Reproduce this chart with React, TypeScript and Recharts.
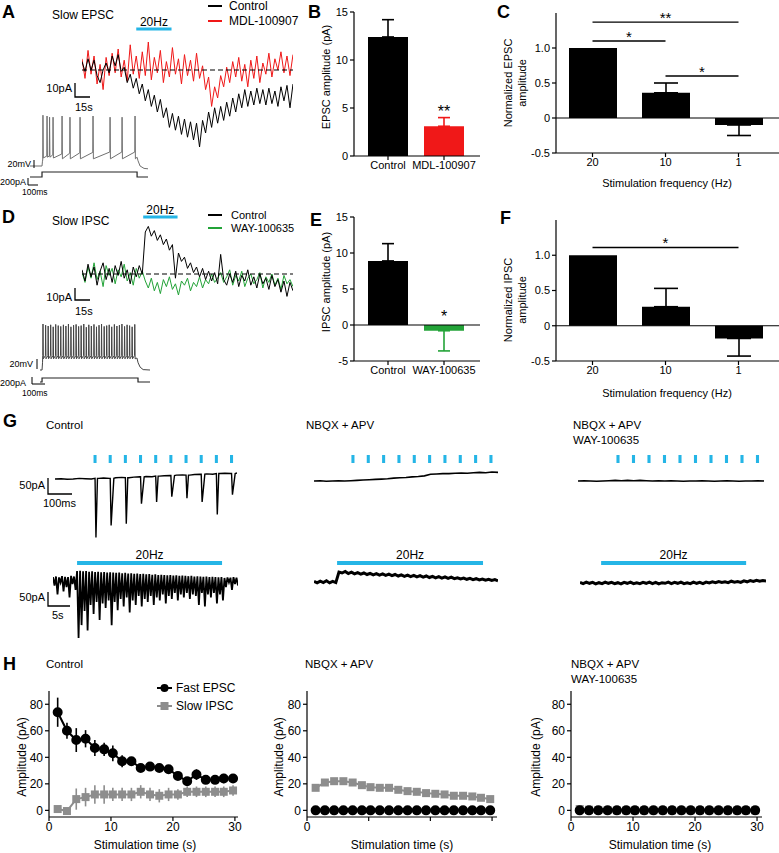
import React from 'react';
import {
  BarChart, Bar, Cell, ErrorBar, LineChart, Line, XAxis, YAxis,
  ReferenceLine, ReferenceArea, ReferenceDot,
} from 'recharts';

const FONT = '"Liberation Sans", Arial, Helvetica, sans-serif';
const CYAN = '#25b5e6';
const RED = '#f01818';
const GREEN = '#23a338';
const GRAY = '#8d8d8d';

// ---- A: slow EPSC (pA, one sample every ~3 s), control vs MDL-100907
const epscTraceControl = [6, -1, 8, 0, 7, -4, -9, 0, 5, -2, 10, 3, 11, -1, 2, -9, -3, -13, -6, -17, -10, -22, -14, -26, -18, -30, -21, -34, -27, -41, -31, -43, -33, -46, -35, -48, -37, -50, -38, -55, -36, -45, -30, -41, -27, -38, -26, -36, -23, -33, -20, -30, -17, -27, -14, -26, -15, -25, -13, -24, -14, -25, -13, -24, -15, -26, -12, -22, -11, -27, -10];
const epscTraceMdl = [8, -6, 14, -3, 10, -10, 4, -14, 9, -4, 12, -2, 15, -5, 7, -8, 18, -3, 10, -6, 13, -4, 20, -7, 9, -2, 14, -9, 6, -5, 16, -3, 8, -10, 11, -4, 7, -8, 12, -6, 3, -14, -5, -26, -12, -20, -4, -12, 2, -9, 6, -5, 9, -8, 4, -12, 7, -6, 10, -9, 5, -3, 12, -5, 8, 0, 13, -2, 10, -4, 11];
const epscStim = [18, 29.7];

// A inset: firing pattern (mV) and current step (pA), time in ms
const firingAHead = [[0, -70], [100, -70], [104, -58]];
const firingASpikes = [108, 142, 163, 192, 267, 333, 417, 525, 667, 767, 875];
const firingAPeaks = [57, 55, 52, 52, 55, 52, 52, 55, 52, 52, 55];
const firingAPre = [-55, -45, -45, -42, -40, -38, -37, -36, -35, -35, -35];
const firingAAhp = [-50, -48, -48, -50, -52, -52, -52, -52, -52, -52, -52];
const firingATail = [[892, -48], [900, -57], [917, -70], [950, -76], [983, -77]];
const stepA = [[0, 0], [100, 0], [100, 200], [892, 200], [892, 0], [983, 0]];

// ---- B: EPSC amplitude
const epscGroups = ['Control', 'MDL-100907'];
const epscMeans = [12.4, 3.1];
const epscSem = [1.8, 0.9];
const epscSig = ['', '**'];

// ---- C: normalized EPSC vs frequency
const freqs = ['20', '10', '1'];
const normEpsc = [1.0, 0.36, -0.1];
const normEpscSem = [0, 0.14, 0.15];
const epscBrackets = [
  { from: '20', to: '1', y: 1.37, mark: '**' },
  { from: '20', to: '10', y: 1.1, mark: '*' },
  { from: '10', to: '1', y: 0.6, mark: '*' },
];

// ---- D: slow IPSC traces, control vs WAY-100635
const ipscTraceControl = [3, -5, 7, -2, 5, -8, 2, 8, -4, 4, -6, 6, -1, 9, -3, 3, -7, 5, -2, 6, 0, 30, 34, 27, 31, 24, 28, 21, 25, 17, 21, -3, 15, 9, 12, 4, 8, 1, 5, -2, 4, -4, 2, -5, 1, -7, 14, -4, -8, 0, -6, 2, -9, -1, -5, 3, -8, -2, -10, 0, -7, -3, -11, -1, -9, -4, -13, -5, -16, -6, -12];
const ipscTraceWay = [1, -6, 5, -3, 8, -4, 2, -9, 6, -1, 4, -7, 3, -2, 7, -5, 1, -8, 4, -3, 2, -5, -10, -3, -12, -6, -14, -4, -9, -2, -11, -7, -15, -5, -8, -3, -12, -6, -9, -2, -10, -4, -7, 0, -6, -3, 1, -6, -2, 3, -8, -1, -5, 2, -9, -3, 0, -7, -4, 1, -10, -2, -6, 0, -8, -3, -11, -1, -7, -4, -9];
const ipscStim = [20.3, 31.7];

const firingDHead = [[0, -70], [17, -70], [21, -52]];
const firingDSpikes = [25, 47, 68, 89, 110, 131, 152, 173, 195, 216, 237, 258, 280, 301, 322, 343, 365, 386, 407, 428, 450, 471, 492, 513, 535, 556, 577, 598, 620, 641, 662, 683, 705, 726, 747, 768, 790];
const firingDPeaks = [45, 42, 40, 43, 38, 44, 41, 39, 43, 40, 45, 38, 42, 44, 39, 41, 45, 37, 43, 40, 44, 38, 42, 45, 39, 41, 43, 38, 44, 40, 42, 45, 39, 43, 41, 38, 44];
const firingDTail = [[808, -40], [818, -52], [835, -63], [860, -69], [917, -70]];
const stepD = [[0, 0], [17, 0], [17, 200], [817, 200], [817, 0], [917, 0]];

// ---- E / F
const ipscGroups = ['Control', 'WAY-100635'];
const ipscMeans = [8.9, -0.8];
const ipscSem = [2.4, 2.8];
const ipscSig = ['', '*'];
const normIpsc = [1.0, 0.27, -0.18];
const normIpscSem = [0, 0.26, 0.25];
const ipscBrackets = [{ from: '20', to: '1', y: 1.11, mark: '*' }];

// ---- G: single-pulse trains (ms) and 30 s trains (samples)
const gFastBaseCtrl = [0, 1, -1, 0, 2, 1, 0, 2, 3, 2, 4, 5, 4, 6, 7, 8, 7, 9, 10, 11, 12, 13, 12, 14, 15, 16, 15, 17, 18, 17, 19];
const gFastStimCtrl = [132, 182, 232, 282, 332, 382, 432, 482, 532, 582];
const gFastPeakCtrl = [185, 147, 144, 84, 81, 66, 72, 87, 128, 66];
const gFastBaseNbqx = [0, 1, -1, 0, 1, 0, 1, 2, 3, 4, 5, 6, 7, 9, 10, 11, 13, 14, 16, 21, 22, 23, 23, 24, 25, 24, 26, 27, 26, 28, 27];
const gFastStimNbqx = [127, 177, 227, 277, 327, 377, 427, 477, 527, 577];
const gFastBaseWay = [0, 1, 0, -1, 0, 1, 2, 1, 2, 1, 2, 1, 0, 1, 0, 1, 0, -1, 0, 0, 1, 0, -1, 0, 1, 0, -1, 0, 0, 1, 0];
const gFastStimWay = [129, 179, 229, 279, 329, 379, 429, 479, 529, 579];

const gSlowTopCtrl = [3, 5, 2, 6, 4, 3, 7, 5, 23, 24, 22, 23, 21, 22, 20, 21, 19, 20, 18, 19, 18, 17, 18, 16, 17, 15, 16, 14, 15, 13, 14, 12, 13, 11, 12, 10, 11, 10, 9, 10, 8, 9, 7, 8, 7, 6, 7, 5, 6, 5, 4, 5, 3, 4, 3, 2, 3, 0, 2, 1, 3, 1];
const gSlowBottomCtrl = [-25, -55, -15, -45, -30, -65, -20, -40, -200, -157, -110, -175, -90, -120, -80, -140, -85, -100, -75, -157, -80, -107, -70, -95, -65, -115, -75, -90, -60, -95, -70, -80, -60, -90, -65, -75, -55, -85, -60, -70, -50, -75, -55, -65, -50, -70, -55, -60, -90, -50, -95, -55, -65, -50, -85, -55, -75, -30, -15, -40, -20, -25];
const gSlowStimCtrl = [8, 56.2];
const gSlowNbqx = [2, -3, 3, -2, 4, -3, 2, -2, 33, 30, 35, 28, 33, 27, 31, 26, 30, 25, 29, 24, 28, 23, 27, 22, 26, 21, 25, 20, 24, 19, 23, 18, 22, 17, 21, 16, 20, 15, 19, 14, 18, 13, 17, 12, 16, 11, 14, 10, 13, 9, 12, 8, 11, 7, 10, 6, 9, 5, 8, 4];
const gSlowStimNbqx = [7.4, 54.2];
const gSlowWay = [2, -2, 3, -1, 2, -3, 1, -2, 3, -1, 2, -2, 1, -3, 2, -1, 3, -2, 1, -2, 2, -1, 3, -2, 2, -3, 1, -1, 3, -2, 2, -1, 3, -2, 1, -2, 3, -1, 2, -2, 3, 0, 4, 1, 5, 2, 4, 1, 6, 3, 5, 2, 7, 4, 8, 5, 9, 6, 8, 7];
const gSlowStimWay = [6.7, 52.7];

// ---- H: amplitude over the 30 s train
const hTime = [1.4, 2.9, 4.4, 5.9, 7.4, 8.9, 10.3, 11.8, 13.3, 14.8, 16.3, 17.8, 19.3, 20.8, 22.3, 23.8, 25.3, 26.8, 28.2, 29.7];
const ctrlFast = [74, 60, 53, 54, 47, 46, 43, 37, 37, 32, 33, 32, 31, 26, 22, 27, 23, 23, 24, 24];
const ctrlFastSem = [11, 6, 9, 6.5, 6, 5, 6, 4.5, 2, 2, 1.5, 1.5, 3, 2, 1.5, 4, 2, 2, 3.5, 3];
const ctrlSlow = [1, -0.5, 8.5, 10, 12, 12, 12, 12, 12, 14, 12, 11, 12, 12, 14, 14, 14, 14, 14, 15];
const ctrlSlowSem = [0, 0, 8, 7, 7, 7, 5, 5, 5, 5, 5, 5, 5, 4, 4, 4, 4, 4, 4, 4];
const nbqxFast = [0, 0, 0, 0, 0, 0, 0, 0, 0, 0, 0, 0, 0, 0, 0, 0, 0, 0, 0, 0];
const nbqxSlow = [17, 21, 22, 22, 21, 19, 17.5, 17, 17, 15.5, 14.5, 14, 13, 12.5, 12, 11, 11, 10.5, 9.5, 8.5];
const wayFast = [0, 0, 0, 0, 0, 0, 0, 0, 0, 0, 0, 0, 0, 0, 0, 0, 0, 0, 0, 0];
const waySlow = [1, 0.5, 0.3, 0.2, 0, 0, 0, 0, 0, 0, 0, 0, 0, 0, 0, 0, 0, 0, 0, 0];

// ---------- helpers
type Box = { x: number; y: number; w: number; h: number; base: number; k: number };
const yDom = (b: Box): [number, number] => [-(b.y + b.h - b.base) / b.k, (b.base - b.y) / b.k];
const toVal = (b: Box, py: number) => (b.base - py) / b.k;
const pick = (a: any, i: number) => (Array.isArray(a) ? a[i] : a);

const pairs = (arr: number[][]) => arr.map(([t, v]) => ({ t, v }));

function spikeTrain(head: number[][], spikes: number[], peaks: number[], pre: any, ahp: any, tail: number[][]) {
  const pts = pairs(head);
  spikes.forEach((s, i) => {
    pts.push({ t: s - 2, v: pick(pre, i) }, { t: s, v: peaks[i] }, { t: s + 3, v: pick(ahp, i) });
  });
  return pts.concat(pairs(tail));
}

function fastTrace(base: number[], stims: number[], peaks: number[]) {
  const pts = base.map((v, i) => ({ t: i * 20, v }));
  stims.forEach((s, i) => {
    const b = base[Math.round(s / 20)];
    pts.push({ t: s, v: b }, { t: s + 3, v: b - peaks[i] }, { t: s + 12, v: b });
  });
  return pts.sort((a, b) => a.t - b.t);
}

const zigzag = (top: number[], bottom: number[]) =>
  top.flatMap((v, i) => [{ t: i, v }, { t: i + 0.5, v: bottom[i] }]);

const indexed = (arr: number[]) => arr.map((v, t) => ({ t, v }));

const AX = { stroke: '#000', strokeWidth: 1.2 };
const TICK = { fontSize: 11, fill: '#000', fontFamily: FONT };

function TraceChart({ box, data, xDomain, lines, children }: any) {
  return (
    <div style={{ position: 'absolute', left: box.x, top: box.y }}>
      <LineChart width={box.w} height={box.h} data={data} margin={{ top: 0, right: 0, bottom: 0, left: 0 }}>
        <XAxis type="number" dataKey="t" domain={xDomain} hide allowDataOverflow />
        <YAxis type="number" domain={yDom(box)} hide allowDataOverflow />
        {lines.map((l: any) => (
          <Line key={l.key} type="linear" dataKey={l.key} stroke={l.color}
            strokeWidth={l.width ?? 1} dot={false} activeDot={false} isAnimationActive={false} />
        ))}
        {children}
      </LineChart>
    </div>
  );
}

function BarPanel({ x, y, w, h, mt, yw, xh, domain, ticks, fmt, names, means, sems, colors, barSize, cap, pad, zero, brackets, sig, sigOffset }: any) {
  const rows = names.map((name: string, i: number) => {
    const e = sems[i] ? (means[i] >= 0 ? [0, sems[i]] : [sems[i], 0]) : null;
    const dark = colors[i] === '#000';
    return { name, v: means[i], eDark: dark ? e : null, eCol: dark ? null : e };
  });
  const col = colors.find((c: string) => c !== '#000') || '#000';
  return (
    <div style={{ position: 'absolute', left: x, top: y }}>
      <BarChart width={w} height={h} data={rows} margin={{ top: mt, right: 0, bottom: 0, left: 0 }}>
        <XAxis dataKey="name" height={xh} interval={0} tickSize={4} tickMargin={1} axisLine={AX} tickLine={AX} tick={TICK} padding={pad} />
        <YAxis type="number" domain={domain} ticks={ticks} tickFormatter={fmt} width={yw} tickSize={4} tickMargin={2} axisLine={AX} tickLine={AX} tick={TICK} allowDataOverflow />
        {zero && <ReferenceLine y={0} stroke="#000" strokeWidth={1.2} />}
        <Bar dataKey="v" barSize={barSize} isAnimationActive={false}>
          {rows.map((r: any, i: number) => <Cell key={r.name} fill={colors[i]} />)}
          <ErrorBar dataKey="eDark" width={cap} stroke="#000" strokeWidth={1.6} direction="y" />
          <ErrorBar dataKey="eCol" width={cap} stroke={col} strokeWidth={1.6} direction="y" />
        </Bar>
        {(brackets || []).map((b: any) => (
          <ReferenceLine key={b.from + b.to} segment={[{ x: b.from, y: b.y }, { x: b.to, y: b.y }]} position="middle"
            stroke="#000" strokeWidth={1.3} ifOverflow="visible"
            label={{ value: b.mark, position: 'top', offset: -1, fontSize: 15, fill: '#000' }} />
        ))}
        {(sig || []).map((s: string, i: number) => s ? (
          <ReferenceDot key={'sig' + i} x={names[i]} y={Math.max(means[i], 0) + (means[i] > 0 ? sems[i] : 0) + sigOffset}
            r={0} fill="none" stroke="none" ifOverflow="visible"
            label={{ value: s, position: 'center', fontSize: 16, fill: '#000' }} />
        ) : null)}
      </BarChart>
    </div>
  );
}

const Square = (props: any) => {
  const { cx, cy, index } = props;
  if (cx == null || cy == null) return <g key={'sq' + index} />;
  return <rect key={'sq' + index} x={cx - 4} y={cy - 4} width={8} height={8} fill={GRAY} />;
};

function AmpPanel({ x, w, mr, xMax, fast, slow, fastSem, slowSem, labelAll }: any) {
  const data = hTime.map((t, i) => ({
    t, fast: fast[i], slow: slow[i],
    fastSem: fastSem ? fastSem[i] : null, slowSem: slowSem ? slowSem[i] : null,
  }));
  return (
    <div style={{ position: 'absolute', left: x, top: 680 }}>
      <LineChart width={w} height={173} data={data} margin={{ top: 11, right: mr, bottom: 0, left: 0 }}>
        <XAxis type="number" dataKey="t" domain={[0, xMax]} ticks={[0, 10, 20, 30]} allowDataOverflow
          tickFormatter={(v: number) => (labelAll || v === 0 ? String(v) : '')}
          height={36} tickSize={4} tickMargin={1} axisLine={AX} tickLine={AX} tick={{ ...TICK, fontSize: 12 }} />
        <YAxis type="number" domain={[-5, 90]} ticks={[0, 20, 40, 60, 80]} width={49} allowDataOverflow
          tickSize={4} tickMargin={2} axisLine={AX} tickLine={AX} tick={{ ...TICK, fontSize: 12 }} />
        <Line dataKey="slow" stroke={GRAY} strokeWidth={2} dot={Square} activeDot={false} isAnimationActive={false}>
          <ErrorBar dataKey="slowSem" width={0} stroke={GRAY} strokeWidth={1.6} direction="y" />
        </Line>
        <Line dataKey="fast" stroke="#000" strokeWidth={2} dot={{ r: 4, fill: '#000', stroke: '#000' }} activeDot={false} isAnimationActive={false}>
          <ErrorBar dataKey="fastSem" width={0} stroke="#000" strokeWidth={1.6} direction="y" />
        </Line>
      </LineChart>
    </div>
  );
}

function T({ x, y, s = 12, a = 'start', b = false, c = '#000', children }: any) {
  return (
    <text x={x} y={y} fontSize={s} textAnchor={a} dominantBaseline="central" fontWeight={b ? 700 : 400} fill={c}>
      {children}
    </text>
  );
}

function VT({ x, y, lines, s = 11 }: any) {
  return (
    <text transform={`translate(${x},${y}) rotate(-90)`} textAnchor="middle" dominantBaseline="central" fontSize={s} fill="#000">
      {lines.map((l: string, i: number) => <tspan key={l} x={0} y={i * 14}>{l}</tspan>)}
    </text>
  );
}

// trace boxes (position of each trace panel and its zero line)
const boxA: Box = { x: 82, y: 8, w: 211, h: 142, base: 70, k: 1.4 };
const boxAV: Box = { x: 30, y: 110, w: 118, h: 60, base: 138, k: 0.4 };
const boxAI: Box = { x: 30, y: 168, w: 118, h: 12, base: 177, k: 0.025 };
const boxD: Box = { x: 82, y: 196, w: 211, h: 109, base: 274, k: 1.4 };
const boxDV: Box = { x: 40, y: 318, w: 110, h: 54, base: 342, k: 0.4 };
const boxDI: Box = { x: 40, y: 374, w: 110, h: 10, base: 382, k: 0.02 };
const boxG1: Box = { x: 55, y: 448, w: 182, h: 97, base: 479, k: 0.32 };
const boxG2: Box = { x: 314, y: 448, w: 184, h: 97, base: 481, k: 0.32 };
const boxG3: Box = { x: 578, y: 448, w: 186, h: 97, base: 481, k: 0.32 };
const boxG4: Box = { x: 53, y: 545, w: 185, h: 97, base: 578, k: 0.3 };
const boxG5: Box = { x: 314, y: 545, w: 184, h: 97, base: 582, k: 0.3 };
const boxG6: Box = { x: 580, y: 545, w: 186, h: 97, base: 583, k: 0.3 };

const normFmt = (v: number) => (v === 0 ? '0' : v.toFixed(1));

function StimTicks({ box, times }: any) {
  return (
    <>
      {times.map((s: number) => (
        <ReferenceArea key={s} x1={s - 5} x2={s + 5} y1={toVal(box, 463)} y2={toVal(box, 455)}
          fill={CYAN} fillOpacity={1} stroke="none" ifOverflow="visible" />
      ))}
    </>
  );
}

function StimBar({ box, range, y0, y1 }: any) {
  return (
    <ReferenceArea x1={range[0]} x2={range[1]} y1={toVal(box, y1)} y2={toVal(box, y0)}
      fill={CYAN} fillOpacity={1} stroke="none" ifOverflow="visible"
      label={{ value: '20Hz', position: 'top', offset: 2, fontSize: 12, fill: '#000' }} />
  );
}

export default function App() {
  const epscData = epscTraceControl.map((v, t) => ({ t, ctrl: v, mdl: epscTraceMdl[t] }));
  const ipscData = ipscTraceControl.map((v, t) => ({ t, ctrl: v, way: ipscTraceWay[t] }));

  return (
    <div style={{ position: 'absolute', left: 0, top: 0, width: 779, height: 853, background: '#fff', fontFamily: FONT, overflow: 'hidden' }}>
      {/* A */}
      <TraceChart box={boxA} data={epscData} xDomain={[0, 70]}
        lines={[{ key: 'mdl', color: RED }, { key: 'ctrl', color: '#000' }]}>
        <ReferenceLine y={0} stroke="#000" strokeDasharray="5 3" strokeWidth={1.2} />
        <StimBar box={boxA} range={epscStim} y0={27.5} y1={30.5} />
      </TraceChart>
      <TraceChart box={boxAV} xDomain={[0, 983]} data={spikeTrain(firingAHead, firingASpikes, firingAPeaks, firingAPre, firingAAhp, firingATail)}
        lines={[{ key: 'v', color: '#707070' }]} />
      <TraceChart box={boxAI} xDomain={[0, 983]} data={pairs(stepA)} lines={[{ key: 'v', color: '#222', width: 1.2 }]} />

      {/* B, C */}
      <BarPanel x={300} y={0} w={180} h={186} mt={12} yw={54} xh={30} domain={[0, 15]} ticks={[0, 5, 10, 15]}
        names={epscGroups} means={epscMeans} sems={epscSem} colors={['#000', RED]} barSize={40} cap={6}
        pad={{ left: 6, right: 8 }} sig={epscSig} sigOffset={0.7} />
      <BarPanel x={470} y={0} w={309} h={193} mt={13} yw={86} xh={40} domain={[-0.5, 1.5]} ticks={[-0.5, 0, 0.5, 1]} fmt={normFmt}
        names={freqs} means={normEpsc} sems={normEpscSem} colors={['#000', '#000', '#000']} barSize={48} cap={12}
        pad={{ left: 0, right: 4 }} zero brackets={epscBrackets} />

      {/* D */}
      <TraceChart box={boxD} data={ipscData} xDomain={[0, 70]}
        lines={[{ key: 'way', color: GREEN }, { key: 'ctrl', color: '#000' }]}>
        <ReferenceLine y={0} stroke="#000" strokeDasharray="5 3" strokeWidth={1.2} />
        <StimBar box={boxD} range={ipscStim} y0={215.5} y1={218.5} />
      </TraceChart>
      <TraceChart box={boxDV} xDomain={[0, 917]} data={spikeTrain(firingDHead, firingDSpikes, firingDPeaks, -34, -42, firingDTail)}
        lines={[{ key: 'v', color: '#444' }]} />
      <TraceChart box={boxDI} xDomain={[0, 917]} data={pairs(stepD)} lines={[{ key: 'v', color: '#222', width: 1.2 }]} />

      {/* E, F */}
      <BarPanel x={300} y={200} w={180} h={191} mt={17} yw={54} xh={30} domain={[-5, 15]} ticks={[-5, 0, 5, 10, 15]}
        names={ipscGroups} means={ipscMeans} sems={ipscSem} colors={['#000', GREEN]} barSize={40} cap={6}
        pad={{ left: 6, right: 8 }} zero sig={ipscSig} sigOffset={1.25} />
      <BarPanel x={470} y={200} w={309} h={201} mt={20} yw={86} xh={40} domain={[-0.5, 1.5]} ticks={[-0.5, 0, 0.5, 1]} fmt={normFmt}
        names={freqs} means={normIpsc} sems={normIpscSem} colors={['#000', '#000', '#000']} barSize={48} cap={12}
        pad={{ left: 0, right: 4 }} zero brackets={ipscBrackets} />

      {/* G */}
      <TraceChart box={boxG1} xDomain={[0, 600]} data={fastTrace(gFastBaseCtrl, gFastStimCtrl, gFastPeakCtrl)}
        lines={[{ key: 'v', color: '#000', width: 1.4 }]}>
        <StimTicks box={boxG1} times={gFastStimCtrl} />
      </TraceChart>
      <TraceChart box={boxG2} xDomain={[0, 600]} data={fastTrace(gFastBaseNbqx, [], [])}
        lines={[{ key: 'v', color: '#000', width: 1.6 }]}>
        <StimTicks box={boxG2} times={gFastStimNbqx} />
      </TraceChart>
      <TraceChart box={boxG3} xDomain={[0, 600]} data={fastTrace(gFastBaseWay, [], [])}
        lines={[{ key: 'v', color: '#000', width: 1.6 }]}>
        <StimTicks box={boxG3} times={gFastStimWay} />
      </TraceChart>
      <TraceChart box={boxG4} xDomain={[0, 61.5]} data={zigzag(gSlowTopCtrl, gSlowBottomCtrl)}
        lines={[{ key: 'v', color: '#000', width: 1.8 }]}>
        <StimBar box={boxG4} range={gSlowStimCtrl} y0={561} y1={565} />
      </TraceChart>
      <TraceChart box={boxG5} xDomain={[0, 59]} data={indexed(gSlowNbqx)}
        lines={[{ key: 'v', color: '#000', width: 3 }]}>
        <StimBar box={boxG5} range={gSlowStimNbqx} y0={561} y1={565} />
      </TraceChart>
      <TraceChart box={boxG6} xDomain={[0, 59]} data={indexed(gSlowWay)}
        lines={[{ key: 'v', color: '#000', width: 3 }]}>
        <StimBar box={boxG6} range={gSlowStimWay} y0={561} y1={565} />
      </TraceChart>

      {/* H */}
      <AmpPanel x={0} w={250} mr={12} xMax={30.5} fast={ctrlFast} slow={ctrlSlow} fastSem={ctrlFastSem} slowSem={ctrlSlowSem} labelAll />
      <AmpPanel x={258} w={250} mr={11} xMax={30.8} fast={nbqxFast} slow={nbqxSlow} />
      <AmpPanel x={522} w={257} mr={17} xMax={30.8} fast={wayFast} slow={waySlow} labelAll />

      {/* text and scale bars */}
      <svg width={779} height={853} style={{ position: 'absolute', left: 0, top: 0, pointerEvents: 'none' }} fontFamily={FONT}>
        <T x={2} y={12} s={18} b>A</T>
        <T x={52} y={15}>Slow EPSC</T>
        <line x1={208} x2={222} y1={6} y2={6} stroke="#000" strokeWidth={2} />
        <T x={229} y={6}>Control</T>
        <line x1={208} x2={222} y1={21} y2={21} stroke={RED} strokeWidth={2} />
        <T x={229} y={21}>MDL-100907</T>
        <path d="M75 83 V97 H90" stroke="#000" strokeWidth={1.3} fill="none" />
        <T x={72} y={88} s={11} a="end">10pA</T>
        <T x={75} y={107} s={11}>15s</T>
        <line x1={34} x2={34} y1={160} y2={168} stroke="#000" strokeWidth={1} />
        <T x={31} y={164} s={9} a="end">20mV</T>
        <path d="M28 178 V185 H38" stroke="#000" strokeWidth={1} fill="none" />
        <T x={0} y={182} s={9}>200pA</T>
        <T x={22} y={192} s={8.5}>100ms</T>

        <T x={308} y={12} s={18} b>B</T>
        <VT x={326} y={77} lines={['EPSC amplitude (pA)']} />
        <T x={497} y={12} s={18} b>C</T>
        <VT x={508} y={83} lines={['Normalized EPSC', 'amplitude']} />
        <T x={667} y={183} s={11} a="middle">Stimulation frequency (Hz)</T>

        <T x={2} y={217} s={18} b>D</T>
        <T x={52} y={221}>Slow IPSC</T>
        <line x1={208} x2={222} y1={215} y2={215} stroke="#000" strokeWidth={2} />
        <T x={231} y={215} s={11}>Control</T>
        <line x1={208} x2={222} y1={228} y2={228} stroke={GREEN} strokeWidth={2} />
        <T x={231} y={228} s={11}>WAY-100635</T>
        <path d="M75 288 V300 H90" stroke="#000" strokeWidth={1.3} fill="none" />
        <T x={72} y={297} s={11} a="end">10pA</T>
        <T x={75} y={311} s={11}>15s</T>
        <line x1={37} x2={37} y1={359} y2={369} stroke="#000" strokeWidth={1} />
        <T x={33} y={364} s={9} a="end">20mV</T>
        <path d="M32 377 V384 H45" stroke="#000" strokeWidth={1} fill="none" />
        <T x={0} y={383} s={9}>200pA</T>
        <T x={22} y={393} s={8.5}>100ms</T>

        <T x={310} y={220} s={18} b>E</T>
        <VT x={326} y={282} lines={['IPSC amplitude (pA)']} />
        <T x={500} y={218} s={18} b>F</T>
        <VT x={508} y={300} lines={['Normalized IPSC', 'amplitude']} />
        <T x={667} y={393} s={11} a="middle">Stimulation frequency (Hz)</T>

        <T x={3} y={421} s={18} b>G</T>
        <T x={46} y={425} s={11.5}>Control</T>
        <T x={306} y={425} s={11.5}>NBQX + APV</T>
        <T x={573} y={425} s={11.5}>NBQX + APV</T>
        <T x={573} y={440} s={11.5}>WAY-100635</T>
        <path d="M48 478 V494 H72" stroke="#000" strokeWidth={1.3} fill="none" />
        <T x={45} y={485} s={11} a="end">50pA</T>
        <T x={43} y={503} s={11}>100ms</T>
        <path d="M48 592 V606 H70" stroke="#000" strokeWidth={1.3} fill="none" />
        <T x={45} y={597} s={11} a="end">50pA</T>
        <T x={52} y={615} s={11}>5s</T>

        <T x={3} y={664} s={18} b>H</T>
        <T x={46} y={664} s={11.5}>Control</T>
        <T x={305} y={664} s={11.5}>NBQX + APV</T>
        <T x={571} y={664} s={11.5}>NBQX + APV</T>
        <T x={571} y={679} s={11.5}>WAY-100635</T>
        <line x1={157} x2={172} y1={688} y2={688} stroke="#000" strokeWidth={2} />
        <circle cx={164.5} cy={688} r={4} fill="#000" />
        <T x={176} y={688}>Fast EPSC</T>
        <line x1={157} x2={172} y1={706} y2={706} stroke={GRAY} strokeWidth={2} />
        <rect x={160.5} y={702} width={8} height={8} fill={GRAY} />
        <T x={176} y={706}>Slow IPSC</T>
        <VT x={22} y={757} lines={['Amplitude (pA)']} s={12} />
        <VT x={279} y={757} lines={['Amplitude (pA)']} s={12} />
        <VT x={536} y={757} lines={['Amplitude (pA)']} s={12} />
        <T x={145} y={845} s={12} a="middle">Stimulation time (s)</T>
        <T x={402} y={845} s={12} a="middle">Stimulation time (s)</T>
        <T x={660} y={845} s={12} a="middle">Stimulation time (s)</T>
      </svg>
    </div>
  );
}
